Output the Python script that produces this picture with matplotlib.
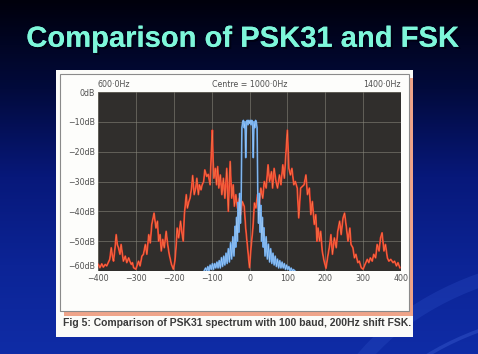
import numpy as np
import matplotlib
matplotlib.use('Agg')
import matplotlib.pyplot as plt
import matplotlib.patheffects as pe
from matplotlib.colors import LinearSegmentedColormap
from matplotlib.patches import Rectangle, Ellipse

# FSK (100 baud, 200 Hz shift) spectrum
fsk_hz = [-399, -395, -390, -386, -381, -377, -373, -369, -365, -362, -359, -355, -352, -349,
          -346, -342, -339, -335, -333, -328, -324, -319, -316, -312, -309, -306, -300, -296,
          -293, -289, -284, -280, -275, -271, -266, -262, -258, -252, -247, -243, -240, -236,
          -233, -229, -225, -220, -216, -212, -206, -201, -197, -194, -191, -187, -182, -179,
          -175, -172, -167, -164, -160, -157, -153, -150, -146, -142, -139, -135, -132, -128,
          -125, -121, -118, -113, -109, -104, -101, -98, -96, -94, -90, -87, -84, -81, -77,
          -73, -69, -65, -60, -56, -51, -47, -43, -40, -36, -32, -27, -23, -19, -14, -10, -5,
          0, 4, 9, 13, 17, 21, 26, 30, 35, 39, 44, 49, 53, 58, 61, 65, 70, 74, 79, 83, 88, 92,
          96, 100, 104, 108, 112, 117, 121, 126, 130, 135, 144, 149, 153, 158, 162, 166, 171,
          175, 178, 181, 185, 188, 192, 197, 202, 206, 212, 215, 219, 224, 229, 233, 238, 242,
          247, 251, 256, 260, 265, 268, 273, 277, 281, 286, 290, 295, 300, 305, 311, 315, 319,
          324, 328, 333, 337, 342, 346, 350, 355, 359, 364, 368, 373, 379, 383, 388, 392, 397]
fsk_db = [-57.8, -58.9, -57.6, -58.7, -57.8, -58.3, -57.2, -56.1, -52.2, -55.0, -56.7, -52.2, -47.8, -51.1,
          -52.2, -54.4, -51.1, -55.0, -56.7, -55.0, -57.2, -55.6, -56.7, -57.8, -57.2, -58.9, -59.4, -57.8,
          -56.7, -58.3, -55.0, -54.4, -51.1, -54.4, -47.8, -50.6, -44.4, -40.6, -45.6, -43.3, -50.0, -47.8,
          -53.3, -49.4, -52.2, -46.7, -51.1, -54.4, -57.8, -59.4, -56.7, -52.2, -45.6, -48.9, -43.3, -46.7,
          -50.0, -41.1, -34.4, -38.9, -36.7, -35.6, -32.2, -28.0, -34.4, -32.2, -28.9, -34.4, -31.1, -32.8,
          -31.1, -30.0, -26.1, -28.3, -27.6, -31.1, -21.1, -12.8, -23.3, -28.9, -25.6, -31.1, -25.0, -32.2, -27.8,
          -34.4, -28.9, -35.6, -25.6, -40.0, -23.3, -35.6, -31.1, -38.3, -34.4, -38.9, -35.6, -41.1, -36.7, -38.3, -45.6, -52.2,
          -58.9, -52.2, -45.6, -37.2, -38.9, -34.4, -37.8, -32.2, -35.6, -30.0, -32.2, -24.4, -30.0, -26.7, -32.2, -25.6, -30.0, -32.2, -27.8, -31.1, -24.4, -28.9,
          -21.1, -12.8, -25.6, -27.8, -25.6, -31.1, -30.0, -32.2, -42.2, -32.2, -31.1, -27.8, -34.4, -32.2, -41.1, -36.7, -44.4,
          -41.1, -50.0, -45.6, -50.0, -46.7, -53.3, -56.7, -59.1, -55.6, -51.1, -47.8, -54.4, -48.9, -52.2, -46.7, -43.3, -47.8,
          -42.2, -40.6, -45.6, -50.0, -45.6, -51.1, -52.2, -55.6, -54.4, -57.2, -56.7, -58.9, -59.4, -57.8, -56.1, -57.2, -55.6,
          -56.7, -54.4, -55.6, -51.1, -53.3, -48.9, -47.2, -53.3, -51.1, -55.6, -56.7, -56.1, -57.2, -56.7, -58.3, -57.2, -58.9]

# PSK31 spectrum
psk_hz = [-120, -116, -113, -110, -107, -104, -101, -98, -95, -92, -89, -86, -83, -80, -77, -74,
          -71, -68, -65, -62, -59, -56, -53, -50, -47, -44, -41, -38, -36, -34, -32, -30, -28,
          -26, -24, -22, -20, -18, -16, -14, -12, -10, -8, -6, -4, -2, 0, 2, 4, 6, 8, 10, 12,
          14, 16, 18, 20, 22, 24, 26, 28, 30, 32, 34, 36, 38, 41, 44, 47, 50, 53, 56, 59, 62,
          65, 68, 71, 74, 77, 80, 83, 86, 89, 92, 95, 98, 101, 104, 107, 110, 113, 116, 120]
psk_db = [-60, -59, -60, -58.5, -60, -58, -59.5, -57.5, -59.5, -57.5, -59, -57, -59, -56.5, -59, -55.5,
          -58.5, -55, -58, -54, -57.5, -52.5, -57, -50.5, -56, -48.5, -55, -45, -52, -42, -50, -37, -47,
          -34, -44, -35, -12, -10, -9.5, -12, -10, -22, -10, -9.5, -11, -9.5, -10.5, -9.5, -11, -9.5, -10, -22, -10,
          -12, -9.5, -10, -12, -35, -44, -34, -47, -38, -50, -42, -52, -45.5, -55, -48.5, -56, -51, -57, -52.5, -57.5, -54,
          -58, -55, -58.5, -56, -59, -56.5, -59, -57, -59, -57.5, -59.5, -58, -59.5, -58.5, -60, -59, -60, -59.5, -60]

x_ticks = [-400, -300, -200, -100, 0, 100, 200, 300, 400]
y_ticks = [0, -10, -20, -30, -40, -50, -60]
y_labels = ['0dB', '\u221210dB', '\u221220dB', '\u221230dB', '\u221240dB', '\u221250dB', '\u221260dB']

W, H = 478, 354
fig = plt.figure(figsize=(W / 100, H / 100), dpi=100)

# slide background
bg = fig.add_axes([0, 0, 1, 1])
bg.set_xlim(0, W)
bg.set_ylim(H, 0)
bg.axis('off')
cmap = LinearSegmentedColormap.from_list('slide', ['#00000c', '#020a3c', '#07187a', '#0c2496', '#0f2ca6'])
grad = np.linspace(0, 1, 256).reshape(-1, 1)
bg.imshow(grad, extent=[0, W, H, 0], aspect='auto', cmap=cmap, zorder=0)
bg.add_patch(Ellipse((600, 470), 560, 420, fc='none', ec='#2e50c8', lw=10, alpha=0.3, zorder=1))
bg.add_patch(Ellipse((600, 490), 520, 360, fc='none', ec='#4a6ee0', lw=2.5, alpha=0.3, zorder=1))

# title with drop shadow
bg.text(242.5, 46.8, 'Comparison of PSK31 and FSK', ha='center', va='baseline', fontsize=21,
        fontweight='bold', family='Liberation Sans', color='#7ef7da', zorder=3,
        path_effects=[pe.withSimplePatchShadow(offset=(1.5, -1.5), shadow_rgbFace='#000010', alpha=0.8),
                      pe.Normal()])

# scanned figure card
bg.add_patch(Rectangle((56, 70), 357, 267, fc='#fbfbf8', ec='none', zorder=2))
bg.add_patch(Rectangle((64, 78), 349, 238, fc='#efa489', ec='none', zorder=3))
bg.add_patch(Rectangle((60, 74), 349, 237, fc='#fdfdfb', ec='#8a8a8a', lw=0.8, zorder=4))
bg.text(63, 323, 'Fig 5: Comparison of PSK31 spectrum with 100 baud, 200Hz shift FSK.',
        ha='left', va='center', fontsize=7.45, fontweight='bold', family='Liberation Sans',
        color='#3a3a3a', zorder=5)

# spectrum plot
ax = fig.add_axes([98 / W, 1 - 271 / H, 303 / W, 179 / H])
ax.set_facecolor('#302e2c')
ax.set_xlim(-400, 400)
ax.set_ylim(-60, 0)
ax.set_xticks(x_ticks)
ax.set_yticks(y_ticks)
ax.set_yticklabels(y_labels)
ax.grid(True, color='#8e8c80', lw=0.5, alpha=0.75)
ax.set_axisbelow(True)
for s in ax.spines.values():
    s.set_visible(False)
ax.tick_params(length=0, labelsize=5.7, labelcolor='#505050', pad=2)
ax.tick_params(axis='x', pad=2.5)
# nudge the bottom dB label up so it clears the -400 tick label
ax.get_yticklabels()[-1].set_verticalalignment('bottom')

ax.plot(fsk_hz, fsk_db, color='#ec3a2a', lw=1.3, zorder=3)
ax.plot(fsk_hz, fsk_db, color='#f48a50', lw=0.35, zorder=3)
ax.plot(psk_hz, psk_db, color='#5f9fe6', lw=1.2, zorder=4)
ax.plot(psk_hz, psk_db, color='#a9d0f5', lw=0.35, zorder=4)

top_kw = dict(transform=ax.transAxes, va='center', fontsize=5.7, color='#505050')
ax.text(0.0, 1.04, '600\u00b70Hz', ha='left', **top_kw)
ax.text(0.5, 1.04, 'Centre = 1000\u00b70Hz', ha='center', **top_kw)
ax.text(1.0, 1.04, '1400\u00b70Hz', ha='right', **top_kw)

fig.savefig('out.png', dpi=100)
